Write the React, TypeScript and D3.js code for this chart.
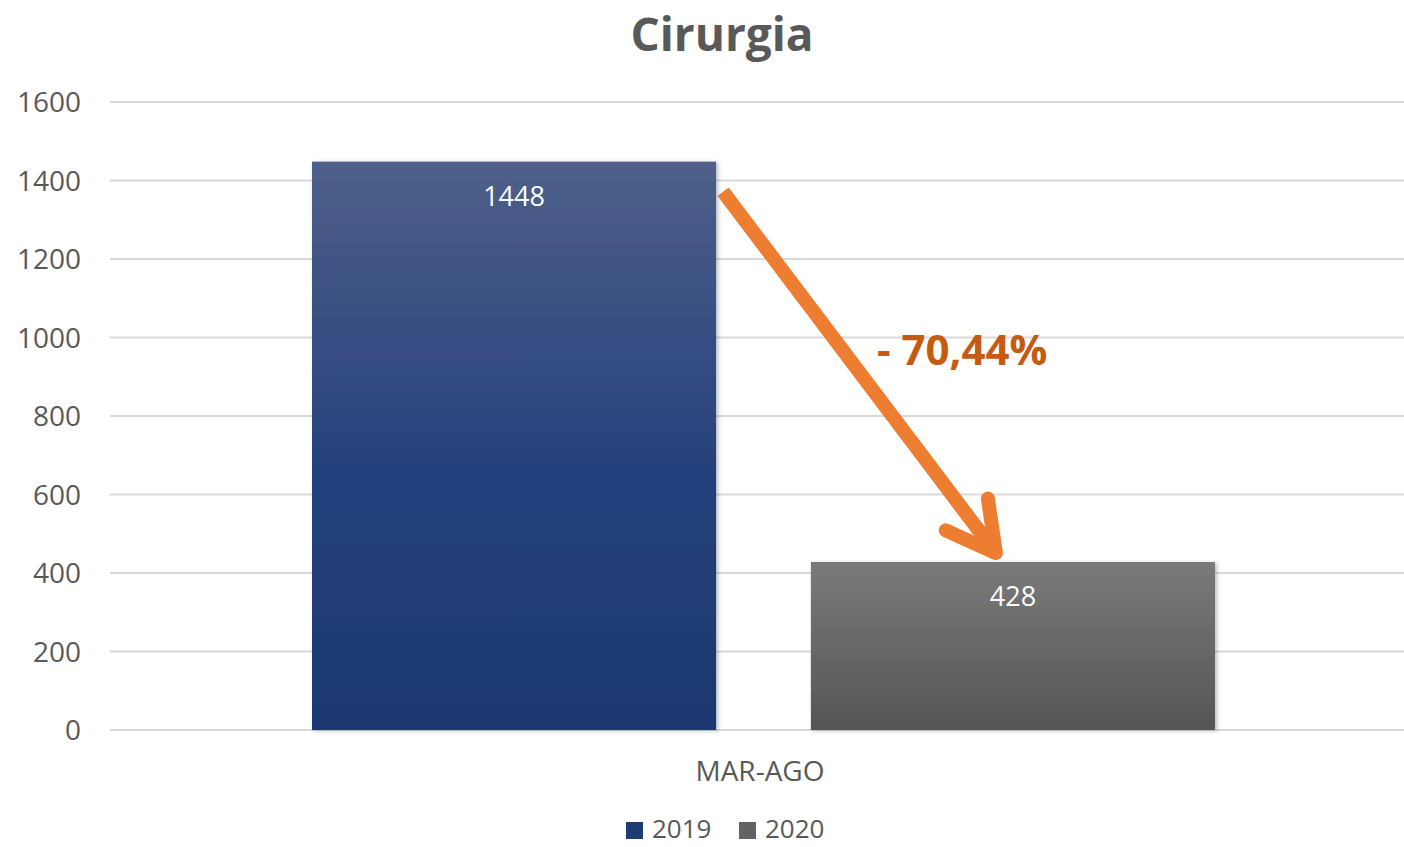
import React from 'react';
import * as d3 from 'd3';

// chart data
const categories = ['MAR-AGO'];
const seriesNames = ['2019', '2020'];
const values2019 = [1448];
const values2020 = [428];
const yTicks = [0, 200, 400, 600, 800, 1000, 1200, 1400, 1600];
const changeLabel = '- 70,44%';

const W = 1404, H = 847;
const margin = { top: 102, right: 0, bottom: 117, left: 110 };
const FONT = "'Open Sans', 'Noto Sans', sans-serif";

const App = () => {
  const y = d3.scaleLinear().domain([0, 1600]).range([H - margin.bottom, margin.top]);
  const x0 = d3.scaleBand().domain(categories).range([margin.left, W + 6]);
  // bars sit inside the category band
  const x1 = d3.scaleBand().domain(seriesNames).range([202, 1105]).paddingInner(0.19);

  const series = [
    { name: '2019', values: values2019, grad: 'g2019', legend: '#1F3B73' },
    { name: '2020', values: values2020, grad: 'g2020', legend: '#636363' },
  ];

  const cat = categories[0];
  const bx1 = x0(cat)! + x1('2019')!;
  const bx2 = x0(cat)! + x1('2020')!;
  const bw = x1.bandwidth();

  // arrow from first bar top-right to second bar top
  const ax1 = bx1 + bw + 7, ay1 = y(values2019[0]) + 30;
  const ax2 = bx2 + 185, ay2 = y(values2020[0]) - 9;
  const ang = Math.atan2(ay2 - ay1, ax2 - ax1);
  const headLen = 55, headSpread = 0.5;
  const wing = (s: number) => [ax2 - headLen * Math.cos(ang + s * headSpread), ay2 - headLen * Math.sin(ang + s * headSpread)];
  const [lx, ly] = wing(1);
  const [rx, ry] = wing(-1);

  return (
    <svg width={W} height={H} style={{ display: 'block', position: 'absolute', left: 0, top: 0 }}>
      <defs>
        <linearGradient id="g2019" x1="0" y1="0" x2="0" y2="1">
          <stop offset="0%" stopColor="#4F5F8A" />
          <stop offset="55%" stopColor="#24417C" />
          <stop offset="100%" stopColor="#1C3870" />
        </linearGradient>
        <linearGradient id="g2020" x1="0" y1="0" x2="0" y2="1">
          <stop offset="0%" stopColor="#7A7A7A" />
          <stop offset="100%" stopColor="#555555" />
        </linearGradient>
        <filter id="shadow" x="-5%" y="-5%" width="110%" height="110%">
          <feDropShadow dx="2" dy="1" stdDeviation="2" floodColor="#000" floodOpacity="0.25" />
        </filter>
      </defs>
      <rect width={W} height={H} fill="#fff" />

      <text x={722} y={51} textAnchor="middle" fontFamily={FONT} fontWeight="bold" fontSize={46} fill="#595959">Cirurgia</text>

      {yTicks.map(t => (
        <g key={t}>
          <line x1={margin.left} x2={W} y1={y(t)} y2={y(t)} stroke="#D9D9D9" strokeWidth={2} />
          <text x={81} y={y(t) + 10} textAnchor="end" fontFamily={FONT} fontSize={28} fill="#595959">{t}</text>
        </g>
      ))}

      {series.map(s => s.values.map((v, i) => {
        const bx = x0(categories[i])! + x1(s.name)!;
        return (
          <g key={s.name + i}>
            <rect x={bx} y={y(v)} width={bw} height={y(0) - y(v)} fill={`url(#${s.grad})`} filter="url(#shadow)" />
            <text x={bx + bw / 2} y={y(v) + 44} textAnchor="middle" fontFamily={FONT} fontSize={27} fill="#fff">{v}</text>
          </g>
        );
      }))}

      {categories.map(c => (
        <text key={c} x={x0(c)! + x0.bandwidth() / 2} y={781} textAnchor="middle" fontFamily={FONT} fontSize={28} fill="#595959">{c}</text>
      ))}

      <g stroke="#ED7D31" strokeWidth={14} fill="none" strokeLinecap="round" strokeLinejoin="round">
        <line x1={ax1} y1={ay1} x2={ax2 - 4 * Math.cos(ang)} y2={ay2 - 4 * Math.sin(ang)} strokeLinecap="butt" />
        <polyline points={`${lx},${ly} ${ax2},${ay2} ${rx},${ry}`} />
      </g>
      <text x={877} y={365} fontFamily={FONT} fontWeight="bold" fontSize={42} fill="#C55A11">{changeLabel}</text>

      {series.map((s, i) => (
        <g key={s.name} transform={`translate(${626 + i * 113},${822})`}>
          <rect width={17} height={17} fill={s.legend} />
          <text x={26} y={16} fontFamily={FONT} fontSize={26} fill="#595959">{s.name}</text>
        </g>
      ))}
    </svg>
  );
};

export default App;
